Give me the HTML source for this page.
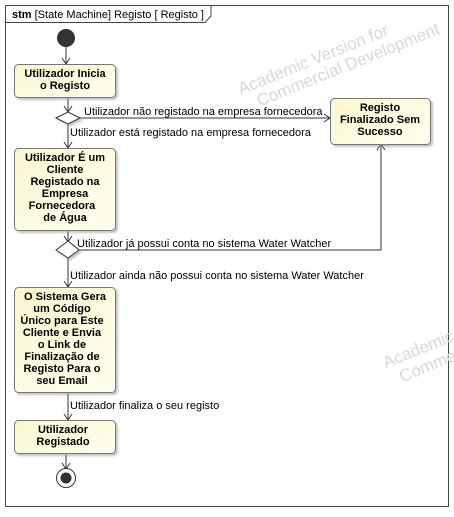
<!DOCTYPE html>
<html><head><meta charset="utf-8"><style>
body{margin:0;background:#fff;width:454px;height:512px;overflow:hidden}
svg text{font-family:"Liberation Sans",sans-serif;font-size:11px;fill:#000}
.b{font-weight:bold;text-anchor:middle}
</style></head><body>
<svg width="454" height="512" viewBox="0 0 454 512">
<defs>
<linearGradient id="g" x1="0" y1="0" x2="1" y2="1"><stop offset="0" stop-color="#fbf7cf"/><stop offset="1" stop-color="#fffff0"/></linearGradient>
<filter id="s" x="-10%" y="-10%" width="130%" height="130%"><feDropShadow dx="2" dy="2" stdDeviation="1" flood-color="#999" flood-opacity="0.6"/></filter>
</defs>
<rect x="5.5" y="5.5" width="443" height="501" fill="#fff" stroke="#444"/>
<path d="M5.5 22.5 H205 L211 16 V5.5" fill="none" stroke="#444"/>
<text x="12" y="18"><tspan font-weight="bold">stm</tspan> [State Machine] Registo [ Registo ]</text>
<g fill="#ccc" font-size="17" transform="rotate(-22 300 60)"><text x="232" y="70" style="font-size:17px;fill:#d8d8d8">Academic Version for</text><text x="245" y="88" style="font-size:17px;fill:#d8d8d8">Commercial Development</text></g>
<g transform="rotate(-22 420 360)"><text x="385" y="355" style="font-size:17px;fill:#d8d8d8">Academic</text><text x="395" y="374" style="font-size:17px;fill:#d8d8d8">Commer</text></g>
<g stroke="#333" fill="none">
<circle cx="66" cy="38" r="8.5" fill="#333"/>
<path d="M66 47V64M62 58l4 6 4-6"/>
<path d="M68 97V112M64 106l4 6 4-6"/>
<path d="M80 118H330M324 114l6 4-6 4"/>
<path d="M68 124V148M64 142l4 6 4-6"/>
<path d="M68 230V242M64 236l4 6 4-6"/>
<path d="M79 250H381V144M377 150l4-6 4 6"/>
<path d="M68 258V287M64 281l4 6 4-6"/>
<path d="M68 392V420M64 414l4 6 4-6"/>
<path d="M66 453V469M62 463l4 6 4-6"/>
<circle cx="66" cy="478" r="9.5" fill="#fff"/>
<circle cx="66" cy="478" r="5" fill="#333"/>
</g>
<g fill="url(#g)" stroke="#777" filter="url(#s)">
<rect x="14.5" y="64.5" width="101" height="33" rx="4"/>
<rect x="330.5" y="98.5" width="100" height="46" rx="4"/>
<rect x="14.5" y="148.5" width="101" height="82" rx="4"/>
<rect x="14.5" y="287.5" width="101" height="105" rx="4"/>
<rect x="14.5" y="420.5" width="101" height="33" rx="4"/>
<path d="M56 118L68 112L80 118L68 124Z" fill="#fff" stroke="#333"/>
<path d="M56 250L68 241L79 250L68 258Z" fill="#fff" stroke="#333"/>
</g>
<text class="b" x="65" y="77">Utilizador Inicia</text><text class="b" x="65" y="89">o Registo</text>
<text class="b" x="380" y="111">Registo</text><text class="b" x="380" y="123">Finalizado Sem</text><text class="b" x="380" y="135">Sucesso</text>
<text class="b" x="65" y="161">Utilizador É um</text><text class="b" x="65" y="173">Cliente</text><text class="b" x="65" y="185">Registado na</text><text class="b" x="65" y="197">Empresa</text><text class="b" x="62" y="209">Fornecedora</text><text class="b" x="65" y="221">de Água</text>
<text class="b" x="65" y="300">O Sistema Gera</text><text class="b" x="62" y="312">um Código</text><text class="b" x="62" y="324">Único para Este</text><text class="b" x="62" y="336">Cliente e Envia</text><text class="b" x="62" y="348">o Link de</text><text class="b" x="62" y="360">Finalização de</text><text class="b" x="62" y="372">Registo Para o</text><text class="b" x="62" y="384">seu Email</text>
<text class="b" x="63" y="433">Utilizador</text><text class="b" x="63" y="445">Registado</text>
<text x="84" y="115">Utilizador não registado na empresa fornecedora</text>
<text x="70" y="136">Utilizador está registado na empresa fornecedora</text>
<text x="77" y="247">Utilizador já possui conta no sistema Water Watcher</text>
<text x="70" y="279">Utilizador ainda não possui conta no sistema Water Watcher</text>
<text x="70" y="409">Utilizador finaliza o seu registo</text>
</svg>
</body></html>
